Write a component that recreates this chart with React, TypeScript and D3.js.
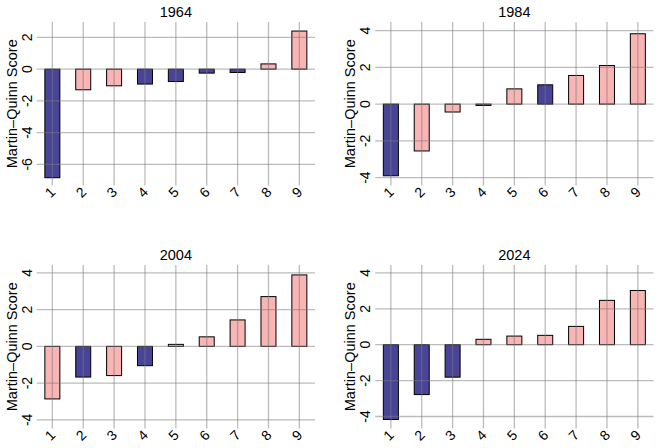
import React from "react";
import * as d3 from "d3";

const categories = ["1", "2", "3", "4", "5", "6", "7", "8", "9"];
const years = ["1964", "1984", "2004", "2024"];

const scores1964 = [-6.84, -1.3, -1.05, -0.94, -0.78, -0.25, -0.21, 0.33, 2.4];
const scores1984 = [-3.9, -2.55, -0.43, -0.07, 0.83, 1.05, 1.56, 2.1, 3.83];
const scores2004 = [-2.86, -1.67, -1.59, -1.05, 0.11, 0.52, 1.44, 2.71, 3.89];
const scores2024 = [-4.17, -2.78, -1.81, 0.3, 0.48, 0.52, 1.02, 2.47, 3.02];

// appointing party: D = blue, R = pink
const party1964 = ["D", "R", "R", "D", "D", "D", "D", "R", "R"];
const party1984 = ["D", "R", "R", "R", "R", "D", "R", "R", "R"];
const party2004 = ["R", "D", "R", "D", "R", "R", "R", "R", "R"];
const party2024 = ["D", "D", "D", "R", "R", "R", "R", "R", "R"];

const yLim1964 = [-7.33, 2.97];
const yLim1984 = [-4.43, 4.47];
const yLim2004 = [-4.47, 4.43];
const yLim2024 = [-4.67, 4.44];

const yTicks1964 = [-6, -4, -2, 0, 2];
const yTicksOther = [-4, -2, 0, 2, 4];

const panels = [
  { year: years[0], scores: scores1964, party: party1964, lim: yLim1964, ticks: yTicks1964 },
  { year: years[1], scores: scores1984, party: party1984, lim: yLim1984, ticks: yTicksOther },
  { year: years[2], scores: scores2004, party: party2004, lim: yLim2004, ticks: yTicksOther },
  { year: years[3], scores: scores2024, party: party2024, lim: yLim2024, ticks: yTicksOther },
];

const W = 657;
const H = 448;
const colLeft = [36.7, 375.2];
const rowTop = [22, 265];
const plotW = 278.3;
const plotH = 163.5;

const BLUE = "#484498";
const PINK = "#F9B4B4";
const FONT = "'Liberation Sans', Arial, Helvetica, sans-serif";

function Panel({ p, left, top }: any) {
  const x = d3
    .scaleBand<string>()
    .domain(categories)
    .range([left, left + plotW])
    .paddingInner(0.514)
    .paddingOuter(0.264);
  const y = d3.scaleLinear().domain(p.lim).range([top + plotH, top]);
  const bottom = top + plotH;
  const cx = (c: string) => (x(c) as number) + x.bandwidth() / 2;
  return (
    <g>
      <text
        x={left + plotW / 2}
        y={top - 5.5}
        textAnchor="middle"
        fontSize={14.5}
        fontFamily={FONT}
        fill="#000"
      >
        {p.year}
      </text>
      {categories.map((c, i) => {
        const v = p.scores[i];
        const y0 = y(0);
        const y1 = y(v);
        return (
          <rect
            key={c}
            x={x(c)}
            y={Math.min(y0, y1)}
            width={x.bandwidth()}
            height={Math.max(0.8, Math.abs(y1 - y0))}
            fill={p.party[i] === "D" ? BLUE : PINK}
            stroke="#000"
            strokeWidth={1}
          />
        );
      })}
      {p.ticks.map((t: number) => (
        <line
          key={"h" + t}
          x1={left}
          x2={left + plotW}
          y1={y(t)}
          y2={y(t)}
          stroke="#7a7a7a"
          strokeOpacity={0.5}
          strokeWidth={1.3}
        />
      ))}
      {categories.map((c) => (
        <line
          key={"v" + c}
          x1={cx(c)}
          x2={cx(c)}
          y1={top}
          y2={bottom}
          stroke="#7a7a7a"
          strokeOpacity={0.5}
          strokeWidth={1.3}
        />
      ))}
      {p.ticks.map((t: number) => (
        <text
          key={"yt" + t}
          transform={`translate(${left - 5},${y(t)}) rotate(-90)`}
          textAnchor="middle"
          fontSize={14}
          fontFamily={FONT}
          fill="#000"
        >
          {t}
        </text>
      ))}
      {categories.map((c) => (
        <text
          key={"xt" + c}
          transform={`translate(${cx(c) + 4},${bottom + 7.5}) rotate(-45)`}
          textAnchor="end"
          fontSize={14}
          fontFamily={FONT}
          fill="#000"
        >
          {c}
        </text>
      ))}
      <text
        transform={`translate(${left - 20},${top + plotH / 2}) rotate(-90)`}
        textAnchor="middle"
        fontSize={14.5}
        fontFamily={FONT}
        fill="#000"
      >
        Martin–Quinn Score
      </text>
    </g>
  );
}

export default function App() {
  return (
    <svg
      width={W}
      height={H}
      style={{ position: "absolute", left: 0, top: 0, background: "#fff" }}
    >
      <rect x={0} y={0} width={W} height={H} fill="#fff" />
      {panels.map((p, i) => (
        <Panel key={p.year} p={p} left={colLeft[i % 2]} top={rowTop[Math.floor(i / 2)]} />
      ))}
    </svg>
  );
}
